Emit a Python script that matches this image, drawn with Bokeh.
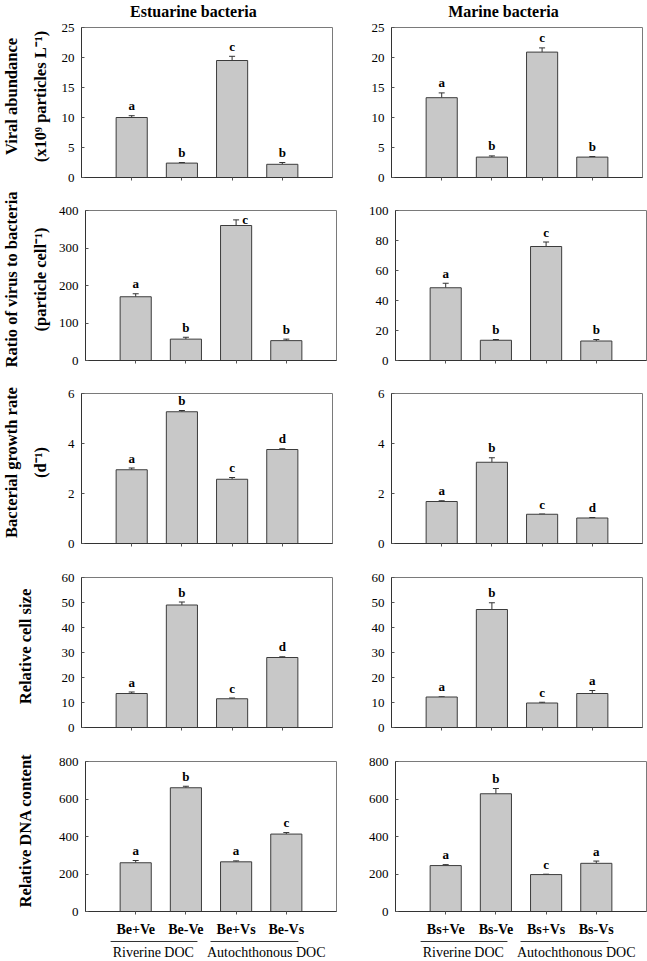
import numpy as np
from bokeh.plotting import figure
from bokeh.models import Range1d, FixedTicker, Whisker, TeeHead, ColumnDataSource
from bokeh.layouts import column, row
from bokeh.embed import file_html
from bokeh.resources import INLINE
from bokeh.core.properties import value

# ---------------- data ----------------
column_titles = ["Estuarine bacteria", "Marine bacteria"]
categories_est = ["Be+Ve", "Be-Ve", "Be+Vs", "Be-Vs"]
categories_mar = ["Bs+Ve", "Bs-Ve", "Bs+Vs", "Bs-Vs"]
groups = ["Riverine DOC", "Autochthonous DOC"]

ylabels = [
    ["Viral abundance", "(x10\u2079 particles L\u207b\u00b9)"],
    ["Ratio of virus to bacteria", "(particle cell\u207b\u00b9)"],
    ["Bacterial growth rate", "(d\u207b\u00b9)"],
    ["Relative cell size"],
    ["Relative DNA content"],
]

# Estuarine bacteria
viral_est = [10.0, 2.4, 19.5, 2.2]
viral_est_err = [0.3, 0.1, 0.7, 0.3]
viral_est_sig = ["a", "b", "c", "b"]
ratio_est = [170, 57, 360, 53]
ratio_est_err = [8, 5, 15, 4]
ratio_est_sig = ["a", "b", "c", "b"]
growth_est = [2.95, 5.27, 2.57, 3.76]
growth_est_err = [0.07, 0.05, 0.07, 0.03]
growth_est_sig = ["a", "b", "c", "d"]
size_est = [13.6, 49.0, 11.5, 28.0]
size_est_err = [0.6, 1.2, 0.3, 0.3]
size_est_sig = ["a", "b", "c", "d"]
dna_est = [260, 660, 265, 413]
dna_est_err = [12, 8, 5, 8]
dna_est_sig = ["a", "b", "a", "c"]

# Marine bacteria
viral_mar = [13.3, 3.4, 20.9, 3.4]
viral_mar_err = [0.8, 0.2, 0.7, 0.1]
viral_mar_sig = ["a", "b", "c", "b"]
ratio_mar = [48.5, 13.5, 76.0, 13.0]
ratio_mar_err = [3.0, 0.5, 3.0, 1.0]
ratio_mar_sig = ["a", "b", "c", "b"]
growth_mar = [1.68, 3.25, 1.17, 1.02]
growth_mar_err = [0.03, 0.18, 0.01, 0.02]
growth_mar_sig = ["a", "b", "c", "d"]
size_mar = [12.2, 47.2, 9.8, 13.6]
size_mar_err = [0.1, 2.7, 0.3, 1.2]
size_mar_sig = ["a", "b", "c", "a"]
dna_mar = [245, 628, 197, 257]
dna_mar_err = [5, 28, 2, 12]
dna_mar_sig = ["a", "b", "c", "a"]

yticks_est = [[0, 5, 10, 15, 20, 25], [0, 100, 200, 300, 400], [0, 2, 4, 6],
              [0, 10, 20, 30, 40, 50, 60], [0, 200, 400, 600, 800]]
yticks_mar = [[0, 5, 10, 15, 20, 25], [0, 20, 40, 60, 80, 100], [0, 2, 4, 6],
              [0, 10, 20, 30, 40, 50, 60], [0, 200, 400, 600, 800]]

est_panels = [(viral_est, viral_est_err, viral_est_sig), (ratio_est, ratio_est_err, ratio_est_sig),
              (growth_est, growth_est_err, growth_est_sig), (size_est, size_est_err, size_est_sig),
              (dna_est, dna_est_err, dna_est_sig)]
mar_panels = [(viral_mar, viral_mar_err, viral_mar_sig), (ratio_mar, ratio_mar_err, ratio_mar_sig),
              (growth_mar, growth_mar_err, growth_mar_sig), (size_mar, size_mar_err, size_mar_sig),
              (dna_mar, dna_mar_err, dna_mar_sig)]

# ---------------- style / layout ----------------
SERIF = "Liberation Serif"
PAGE_H = 961
FW, FH = 251, 150
LABEL_W = 55
LEFT_B = [26, 45]
RIGHT_B = [14, 4]
TOP_B = [7, 17, 17, 18, 18]
BOT_B = [16, 16, 16, 16, 24]
HEAD_H = 20
FOOT_H = 23
xpos = [1, 2, 3, 4]


def blank(p):
    p.grid.visible = False
    p.outline_line_color = None
    p.background_fill_color = "white"
    p.border_fill_color = "white"


def make_panel(c, r, vals, errs, sig, ticks, cats):
    ymax = ticks[-1]
    p = figure(frame_width=FW, frame_height=FH, x_range=Range1d(0, 5), y_range=Range1d(0, ymax),
               min_border_left=LEFT_B[c], min_border_right=RIGHT_B[c],
               min_border_top=TOP_B[r], min_border_bottom=BOT_B[r],
               toolbar_location=None, output_backend="svg")
    p.grid.visible = False
    p.outline_line_color = "#7a7a7a"
    p.outline_line_width = 1
    p.background_fill_color = "white"
    p.border_fill_color = "white"

    xa = p.xaxis[0]
    xa.ticker = FixedTicker(ticks=xpos)
    xa.major_tick_in = 0
    xa.major_tick_out = 3
    xa.minor_tick_line_color = None
    xa.axis_line_color = "#333333"
    xa.major_tick_line_color = "#555555"
    if r == 4:
        xa.major_label_overrides = {x: t for x, t in zip(xpos, cats)}
        xa.major_label_standoff = 7
        xa.major_label_text_font = SERIF
        xa.major_label_text_font_style = "bold"
        xa.major_label_text_font_size = "14px"
        xa.major_label_text_color = "black"
    else:
        xa.major_label_overrides = {x: "" for x in xpos}
        xa.major_label_standoff = 0

    ya = p.yaxis[0]
    ya.ticker = FixedTicker(ticks=ticks)
    ya.major_tick_in = 3
    ya.major_tick_out = 0
    ya.minor_tick_line_color = None
    ya.major_label_standoff = 7
    ya.major_label_text_font = SERIF
    ya.major_label_text_font_size = "13px"
    ya.major_label_text_color = "black"
    ya.axis_line_color = "#333333"
    ya.major_tick_line_color = "#555555"

    src = ColumnDataSource(dict(x=xpos, top=vals, up=[v + e for v, e in zip(vals, errs)]))
    p.vbar(x="x", top="top", bottom=0, width=0.62, source=src,
           fill_color="#c8c8c8", line_color="#3c3c3c", line_width=1)
    wh = Whisker(base="x", lower="top", upper="up", source=src, dimension="height",
                 line_color="#333333", line_width=1,
                 upper_head=TeeHead(size=6, line_color="#333333", line_width=1), lower_head=None)
    p.add_layout(wh)

    # significance letters
    ups = [v + e for v, e in zip(vals, errs)]
    xo, yo = [], []
    for u in ups:
        if u / ymax > 0.9:
            xo.append(9); yo.append(0)
        else:
            xo.append(0); yo.append(-10)
    lsrc = ColumnDataSource(dict(x=xpos, y=ups, t=sig, xo=xo, yo=yo))
    p.text(x="x", y="y", text="t", x_offset="xo", y_offset="yo", source=lsrc,
           text_align="center", text_baseline="alphabetic",
           text_font=value(SERIF), text_font_style="bold", text_font_size="13px", text_color="black")
    return p


def make_ylabels():
    # one tall strip on the left, data y = pixel row from the top of the page
    f = figure(frame_width=LABEL_W, frame_height=PAGE_H, x_range=Range1d(0, LABEL_W),
               y_range=Range1d(PAGE_H, 0), min_border=0, x_axis_type=None, y_axis_type=None,
               toolbar_location=None, output_backend="svg")
    blank(f)
    xs, ys, ts = [], [], []
    top = HEAD_H
    for r in range(5):
        frame_mid = top + TOP_B[r] + FH / 2
        lines = ylabels[r]
        lx = [11, 40] if len(lines) == 2 else [25]
        for t, x in zip(lines, lx):
            xs.append(x); ys.append(frame_mid - 6); ts.append(t)
        top += TOP_B[r] + FH + BOT_B[r]
    f.text(x=xs, y=ys, text=ts, angle=np.pi / 2, text_align="center", text_baseline="middle",
           text_font=value(SERIF), text_font_style="bold", text_font_size="16.5px", text_color="black")
    return f


def make_header(c):
    f = figure(frame_width=FW, frame_height=HEAD_H, x_range=Range1d(0, 5), y_range=Range1d(HEAD_H, 0),
               min_border_left=LEFT_B[c], min_border_right=RIGHT_B[c], min_border_top=0, min_border_bottom=0,
               x_axis_type=None, y_axis_type=None, toolbar_location=None, output_backend="svg")
    blank(f)
    f.text(x=[2.23], y=[11], text=[column_titles[c]], text_align="center",
           text_baseline="middle", text_font=value(SERIF), text_font_style="bold",
           text_font_size="16px", text_color="black")
    return f


def make_footer(c, xr):
    f = figure(frame_width=FW, frame_height=FOOT_H, x_range=xr, y_range=Range1d(FOOT_H, 0),
               min_border_left=LEFT_B[c], min_border_right=RIGHT_B[c],
               min_border_top=0, min_border_bottom=0, x_axis_type=None, y_axis_type=None,
               toolbar_location=None, output_backend="svg")
    blank(f)
    f.segment(x0=[xpos[0] - 0.42, xpos[2] - 0.43], x1=[xpos[1] + 0.31, xpos[3] + 0.32],
              y0=[2, 2], y1=[2, 2], line_color="#333333", line_width=1)
    f.text(x=[1.43, 3.68], y=[13, 13], text=groups, text_align="center", text_baseline="middle",
           text_font=value(SERIF), text_font_size="14px", text_color="black")
    return f


rows = [row(make_header(0), make_header(1))]
bottom = []
for r in range(5):
    pe = make_panel(0, r, *est_panels[r], yticks_est[r], categories_est)
    pm = make_panel(1, r, *mar_panels[r], yticks_mar[r], categories_mar)
    rows.append(row(pe, pm))
    if r == 4:
        bottom = [pe, pm]

rows.append(row(make_footer(0, bottom[0].x_range), make_footer(1, bottom[1].x_range)))
layout = row(make_ylabels(), column(*rows))

open("out.html", "w").write(file_html(layout, INLINE))
